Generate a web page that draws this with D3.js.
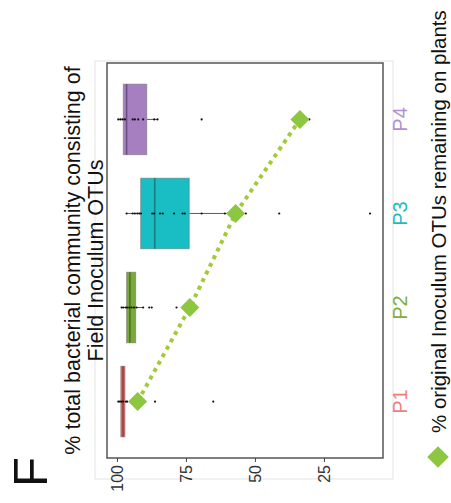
<!DOCTYPE html>
<html>
<head>
<meta charset="utf-8">
<script src="https://cdn.jsdelivr.net/npm/d3@7/dist/d3.min.js"></script>
<style>
  html, body { margin: 0; padding: 0; background: #fff; }
  svg { display: block; }
  text { font-family: "Liberation Sans", Arial, sans-serif; }
</style>
</head>
<body>
<svg id="chart" width="451" height="503"></svg>
<script>
// Plant stages and their colours
const categories = ["P1", "P2", "P3", "P4"];
const boxColors = ["#E4696A", "#7BA83C", "#19BEC5", "#A57FBF"];
const medianColors = ["#9E3E3E", "#4C7722", "#1B7E83", "#6A4F87"];
const labelColors = ["#F07E7B", "#7DAF3A", "#22BAC1", "#B190D0"];

// Box summaries (% of community made of field inoculum OTUs)
const q1 = [97.1, 93.2, 73.8, 89.2];
const median = [97.8, 95.3, 86.3, 96.5];
const q3 = [98.6, 96.5, 91.4, 97.7];
const whiskerLow = [96.3, 90.5, 53.3, 85.3];
const whiskerHigh = [99.5, 98.3, 96.5, 99.5];

// Individual samples per stage
const pointsP1 = [99.5, 98.9, 98.3, 97.7, 96.7, 96.3, 86.2, 65.1];
const pointsP2 = [98.3, 97.7, 96.8, 96.3, 95.5, 94.7, 93.8, 92.9, 90.5, 88.3, 87.4, 78.4];
const pointsP3 = [96.5, 94.3, 93.5, 92.6, 91.9, 91.3, 87.2, 86.5, 84.4, 83.4, 79.3, 76.2, 75.4, 69.3, 60.9, 53.3, 41.2, 8.3];
const pointsP4 = [99.5, 98.7, 97.9, 97.1, 94.3, 93.5, 92.3, 90.5, 86.5, 85.3, 69.3, 30.3];
const points = [pointsP1, pointsP2, pointsP3, pointsP4];

// % of original inoculum OTUs still present on plants
const remaining = [92.5, 73.6, 57.0, 33.7];

const yTicks = [100, 75, 50, 25];

const svg = d3.select("#chart");
// The whole figure is laid out landscape, then turned a quarter turn
const W = 503, H = 451;
const root = svg.append("g").attr("transform", `translate(0,${W}) rotate(-90)`);

const panel = { left: 45, right: 440, top: 107, bottom: 383 };

// Outer light frame
root.append("rect")
  .attr("x", 24).attr("y", 95)
  .attr("width", 442 - 24).attr("height", 393 - 95)
  .attr("fill", "none").attr("stroke", "#e3e3e3").attr("stroke-width", 1);

const x = d3.scalePoint().domain(categories)
  .range([panel.left, panel.right]).padding(0.6);
const step = x.step();
const boxW = step * 0.75;

const y = d3.scaleLinear().domain([3.6, 103.6])
  .range([panel.bottom, panel.top]);

// Boxes
categories.forEach((c, i) => {
  const cx = x(c);
  const g = root.append("g");
  // whiskers
  g.append("line")
    .attr("x1", cx).attr("x2", cx)
    .attr("y1", y(whiskerHigh[i])).attr("y2", y(q3[i]))
    .attr("stroke", "#333").attr("stroke-width", 0.8);
  g.append("line")
    .attr("x1", cx).attr("x2", cx)
    .attr("y1", y(q1[i])).attr("y2", y(whiskerLow[i]))
    .attr("stroke", "#333").attr("stroke-width", 0.8);
  g.append("rect")
    .attr("x", cx - boxW / 2).attr("width", boxW)
    .attr("y", y(q3[i])).attr("height", y(q1[i]) - y(q3[i]))
    .attr("fill", boxColors[i])
    .attr("stroke", "#6e6e6e").attr("stroke-opacity", 0.55).attr("stroke-width", 1);
  g.append("line")
    .attr("x1", cx - boxW / 2).attr("x2", cx + boxW / 2)
    .attr("y1", y(median[i])).attr("y2", y(median[i]))
    .attr("stroke", medianColors[i]).attr("stroke-width", 1.6);
  g.selectAll("circle").data(points[i]).join("circle")
    .attr("cx", cx).attr("cy", d => y(d)).attr("r", 1.1)
    .attr("fill", "#111");
});

// Remaining-OTU trend
const line = d3.line().x((d, i) => x(categories[i])).y(d => y(d));
root.append("path")
  .datum(remaining)
  .attr("d", line)
  .attr("fill", "none")
  .attr("stroke", "#A3CB38")
  .attr("stroke-width", 4)
  .attr("stroke-dasharray", "4 4.5");

const diamond = d3.symbol().type(d3.symbolSquare).size(180);
root.selectAll("path.dia").data(remaining).join("path")
  .attr("class", "dia")
  .attr("d", diamond)
  .attr("transform", (d, i) => `translate(${x(categories[i])},${y(d)}) rotate(45)`)
  .attr("fill", "#8DC63F");

// Panel border
root.append("rect")
  .attr("x", panel.left).attr("y", panel.top)
  .attr("width", panel.right - panel.left).attr("height", panel.bottom - panel.top)
  .attr("fill", "none").attr("stroke", "#555").attr("stroke-width", 1.5);

// Value axis
const yAxis = root.append("g")
  .attr("transform", `translate(${panel.left},0)`)
  .call(d3.axisLeft(y).tickValues(yTicks).tickSize(4).tickPadding(3));
yAxis.select(".domain").remove();
yAxis.selectAll("line").attr("stroke", "#444");
yAxis.selectAll("text")
  .attr("font-size", 16).attr("fill", "#333")
  .attr("font-family", "'Liberation Sans', Arial, sans-serif");

// Stage labels
root.selectAll("text.cat").data(categories).join("text")
  .attr("class", "cat")
  .attr("x", d => x(d)).attr("y", 407)
  .attr("text-anchor", "middle")
  .attr("font-size", 20)
  .attr("fill", (d, i) => labelColors[i])
  .text(d => d);

// Title
const cxPanel = (panel.left + panel.right) / 2;
root.append("text")
  .attr("x", cxPanel).attr("y", 79.5)
  .attr("text-anchor", "middle").attr("font-size", 21.5).attr("fill", "#111")
  .text("% total bacterial community consisting of");
root.append("text")
  .attr("x", cxPanel).attr("y", 102.5)
  .attr("text-anchor", "middle").attr("font-size", 21.5).attr("fill", "#111")
  .text("Field Inoculum OTUs");

// Panel letter
root.append("text")
  .attr("x", 16).attr("y", 47)
  .attr("font-size", 49).attr("fill", "#111")
  .text("F");

// Legend
root.append("path")
  .attr("d", d3.symbol().type(d3.symbolSquare).size(230))
  .attr("transform", `translate(46,438) rotate(45)`)
  .attr("fill", "#8DC63F");
root.append("text")
  .attr("x", 70).attr("y", 446)
  .attr("font-size", 20.5).attr("fill", "#111")
  .text("% original Inoculum OTUs remaining on plants");
</script>
</body>
</html>
